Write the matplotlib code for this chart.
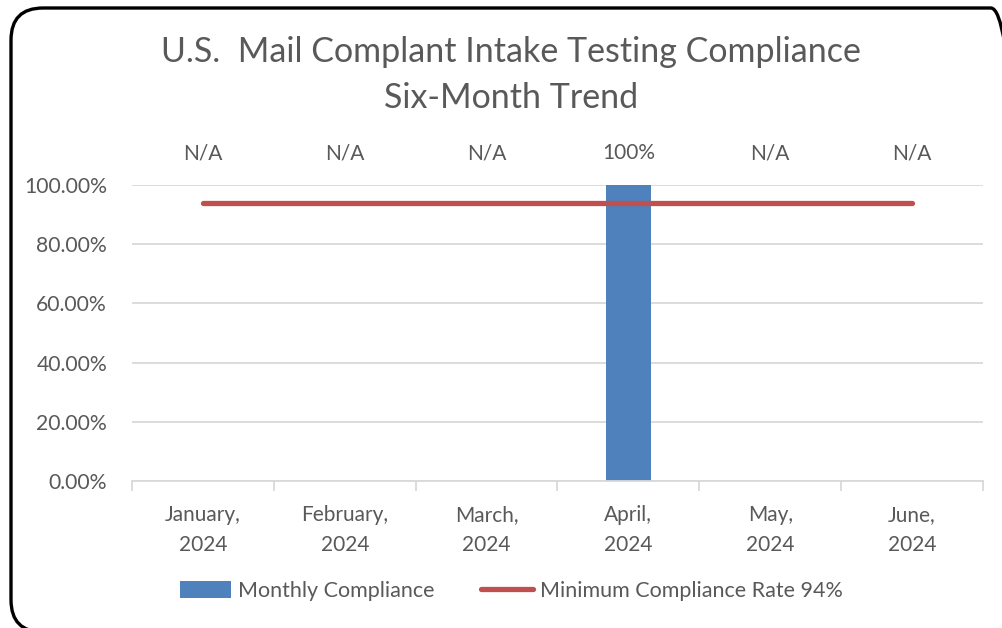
import numpy as np
import matplotlib.pyplot as plt
from matplotlib.patches import FancyBboxPatch, Patch
from matplotlib.lines import Line2D

plt.rcParams['font.family'] = ['Lato', 'DejaVu Sans']

months = ['January,\n2024', 'February,\n2024', 'March,\n2024', 'April,\n2024', 'May,\n2024', 'June,\n2024']
monthly = [np.nan, np.nan, np.nan, 1.00, np.nan, np.nan]
data_labels = ['N/A', 'N/A', 'N/A', '100%', 'N/A', 'N/A']
minimum = [0.94, 0.94, 0.94, 0.94, 0.94, 0.94]

gris = '#595959'
azul = '#4f81bd'
rojo = '#c0504d'

fig = plt.figure(figsize=(10.03, 6.28), dpi=100)

# marco redondeado (se sale por la derecha y por abajo)
marco = FancyBboxPatch((11/1003, -4/628), 1012/1003, 624/628, boxstyle='round,pad=0,rounding_size=0.032',
                       transform=fig.transFigure, fill=False, edgecolor='black', linewidth=2.4,
                       mutation_aspect=1003/628)
fig.patches.append(marco)

ax = fig.add_axes([132/1003, 1-481/628, (983-132)/1003, (481-185)/628])
x = np.arange(len(months))

ax.bar(x, monthly, width=0.32, color=azul, zorder=2)
ax.plot(x, minimum, color=rojo, linewidth=3.8, solid_capstyle='round', zorder=3)

for i in range(len(months)):
    ax.text(x[i], 1.108, data_labels[i], ha='center', va='center', fontsize=15, color=gris, clip_on=False)

ax.set_xlim(-0.5, 5.5)
ax.set_ylim(0, 1.0)
ax.set_yticks(np.arange(0, 1.01, 0.2))
ax.set_yticklabels(['%.2f%%' % (v*100) for v in np.arange(0, 1.01, 0.2)])
ax.yaxis.grid(True, color='#d9d9d9', linewidth=1.3, zorder=0)
ax.set_axisbelow(True)

ax.set_xticks(np.arange(-0.5, 6, 1))
ax.set_xticklabels([])
ax.set_xticks(x, minor=True)
ax.set_xticklabels(months, minor=True, fontsize=15, color=gris, linespacing=1.65)
ax.tick_params(axis='x', which='major', length=7, color='#d9d9d9', width=1.3)
ax.tick_params(axis='x', which='minor', length=0, pad=17)
ax.tick_params(axis='y', length=0, labelsize=15.2, labelcolor=gris, pad=18)

for lado in ['top', 'right', 'left']:
    ax.spines[lado].set_visible(False)
ax.spines['bottom'].set_color('#d9d9d9')
ax.spines['bottom'].set_linewidth(1.3)

fig.text(511/1003, 1-52/628, 'U.S.  Mail Complant Intake Testing Compliance', ha='center', va='center',
         fontsize=24.5, color=gris)
fig.text(511/1003, 1-98/628, 'Six-Month Trend', ha='center', va='center', fontsize=24.5, color=gris)

handles = [Patch(facecolor=azul, label='Monthly Compliance'),
           Line2D([0], [0], color=rojo, linewidth=3.8, solid_capstyle='round', label='Minimum Compliance Rate 94%')]
fig.legend(handles=handles, loc='center', bbox_to_anchor=(511/1003, 1-591/628), ncol=2, frameon=False,
           fontsize=15.5, labelcolor=gris, handlelength=2.4, handleheight=0.8, columnspacing=2.2, handletextpad=0.3)

fig.savefig('out.png', dpi=100)
